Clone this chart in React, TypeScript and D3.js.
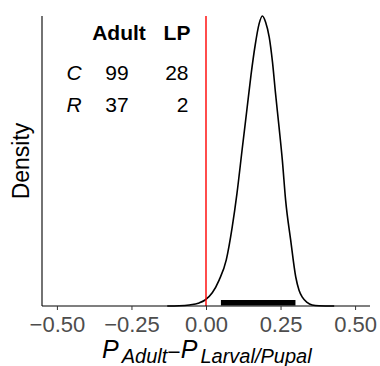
import React, { useEffect, useRef } from "react";
import * as d3 from "d3";

// posterior density of the difference
const diffValues = [
  -0.13, -0.09, -0.056, -0.023, -0.003, 0.021, 0.044, 0.068, 0.088, 0.104,
  0.121, 0.137, 0.151, 0.165, 0.178, 0.189, 0.2, 0.212, 0.223, 0.233, 0.245,
  0.256, 0.267, 0.284, 0.301, 0.312, 0.323, 0.339, 0.356, 0.379, 0.43,
];
const densityValues = [
  0, 0.005, 0.023, 0.07, 0.137, 0.3, 0.59, 1.05, 1.8, 2.57, 3.55, 4.46, 5.26,
  5.94, 6.42, 6.6, 6.46, 6.12, 5.55, 4.85, 4.07, 3.32, 2.41, 1.5, 0.66, 0.36,
  0.2, 0.08, 0.023, 0.005, 0,
];
const interval = [0.05, 0.3];
const xTicks = [-0.5, -0.25, 0, 0.25, 0.5];

const rowLabels = ["C", "R"];
const adultCounts = [99, 37];
const lpCounts = [28, 2];
const headers = ["Adult", "LP"];

export default function App() {
  const svgRef = useRef<SVGSVGElement>(null);

  useEffect(() => {
    if (!svgRef.current) return;
    const svg = d3.select(svgRef.current);
    svg.selectAll("*").remove();

    const margin = { left: 42, right: 10, top: 16, bottom: 60 };
    const width = 380;
    const height = 366;
    const font = "Liberation Sans, Arial, Helvetica, sans-serif";

    const x = d3
      .scaleLinear()
      .domain([-0.55, 0.55])
      .range([margin.left, width - margin.right]);
    const y = d3
      .scaleLinear()
      .domain([0, d3.max(densityValues) || 1])
      .range([height - margin.bottom, margin.top]);

    const data = diffValues.map((v, i) => ({ v, d: densityValues[i] }));

    // density curve
    const line = d3
      .line<{ v: number; d: number }>()
      .x((p) => x(p.v))
      .y((p) => y(p.d))
      .curve(d3.curveMonotoneX);

    svg
      .append("path")
      .datum(data)
      .attr("d", line)
      .attr("fill", "none")
      .attr("stroke", "#000")
      .attr("stroke-width", 1.6);

    // credible interval bar
    svg
      .append("rect")
      .attr("x", x(interval[0]))
      .attr("width", x(interval[1]) - x(interval[0]))
      .attr("y", y(0) - 6)
      .attr("height", 5.5)
      .attr("fill", "#000");

    // zero line
    svg
      .append("line")
      .attr("x1", x(0))
      .attr("x2", x(0))
      .attr("y1", margin.top)
      .attr("y2", y(0))
      .attr("stroke", "#ff0000")
      .attr("stroke-width", 1.4);

    // x axis
    const xAxis = d3
      .axisBottom(x)
      .tickValues(xTicks)
      .tickFormat(d3.format(".2f"))
      .tickSize(4)
      .tickPadding(6);
    const gx = svg
      .append("g")
      .attr("transform", `translate(0,${y(0)})`)
      .call(xAxis);
    gx.select(".domain")
      .attr("d", `M${margin.left},0H${width - margin.right}`)
      .attr("stroke", "#000")
      .attr("stroke-width", 1.1);
    gx.selectAll(".tick line").attr("stroke", "#333");
    gx.selectAll(".tick text")
      .attr("fill", "#4d4d4d")
      .style("font-family", font)
      .style("font-size", "22px");

    // y axis line
    svg
      .append("line")
      .attr("x1", margin.left)
      .attr("x2", margin.left)
      .attr("y1", margin.top)
      .attr("y2", y(0))
      .attr("stroke", "#000")
      .attr("stroke-width", 1.1);

    // y title
    svg
      .append("text")
      .attr("transform", `translate(29,${(margin.top + y(0)) / 2}) rotate(-90)`)
      .attr("text-anchor", "middle")
      .style("font-family", font)
      .style("font-size", "23px")
      .text("Density");

    // x title with subscripts
    const xt = svg
      .append("text")
      .attr("x", 102)
      .attr("y", 358)
      .style("font-family", font)
      .style("font-style", "italic");
    xt.append("tspan").style("font-size", "25px").text("P");
    xt.append("tspan")
      .attr("dy", 5)
      .attr("dx", 3)
      .style("font-size", "20px")
      .text("Adult");
    xt.append("tspan")
      .attr("dy", -3)
      .style("font-size", "23px")
      .style("font-style", "normal")
      .text("\u2212");
    xt.append("tspan")
      .attr("dy", -2)
      .style("font-size", "25px")
      .text("P");
    xt.append("tspan")
      .attr("dy", 5)
      .attr("dx", 3)
      .style("font-size", "20px")
      .text("Larval/Pupal");

    // count table
    const tfont = "21px";
    svg
      .append("text")
      .attr("x", 119)
      .attr("y", 39.5)
      .attr("text-anchor", "middle")
      .style("font-family", font)
      .style("font-size", tfont)
      .style("font-weight", "bold")
      .text(headers[0]);
    svg
      .append("text")
      .attr("x", 177)
      .attr("y", 39.5)
      .attr("text-anchor", "middle")
      .style("font-family", font)
      .style("font-size", tfont)
      .style("font-weight", "bold")
      .text(headers[1]);

    const rowY = [79.5, 111.5];
    rowLabels.forEach((r, i) => {
      svg
        .append("text")
        .attr("x", 74)
        .attr("y", rowY[i])
        .attr("text-anchor", "middle")
        .style("font-family", font)
        .style("font-size", tfont)
        .style("font-style", "italic")
        .text(r);
      svg
        .append("text")
        .attr("x", 117)
        .attr("y", rowY[i])
        .attr("text-anchor", "middle")
        .style("font-family", font)
        .style("font-size", tfont)
        .text(String(adultCounts[i]));
      svg
        .append("text")
        .attr("x", 188.5)
        .attr("y", rowY[i])
        .attr("text-anchor", "end")
        .style("font-family", font)
        .style("font-size", tfont)
        .text(String(lpCounts[i]));
    });
  }, []);

  return (
    <svg
      ref={svgRef}
      width={380}
      height={366}
      style={{ position: "absolute", left: 0, top: 0, background: "#fff" }}
    />
  );
}
